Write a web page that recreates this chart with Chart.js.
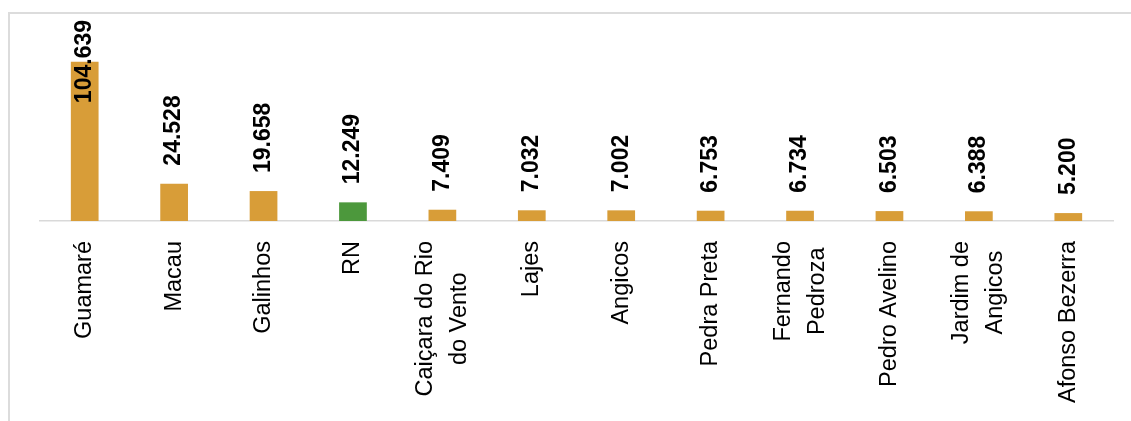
<!DOCTYPE html>
<html>
<head>
<meta charset="utf-8">
<script src="https://cdn.jsdelivr.net/npm/chart.js@4"></script>
<style>
  html, body { margin: 0; padding: 0; background: #fff; overflow: hidden; }
  #wrap { position: relative; width: 1131px; height: 421px; }
  #frame { position: absolute; left: 8px; top: 12px; width: 1200px; height: 500px;
           border-left: 2px solid #dcdcdc; border-top: 2px solid #dcdcdc; }
  canvas { position: absolute; left: 0; top: 0; }
</style>
</head>
<body>
<div id="wrap">
  <div id="frame"></div>
  <canvas id="chart" width="1131" height="421"></canvas>
</div>
<script>
// --- Données ---
const categories = [
  "Guamaré", "Macau", "Galinhos", "RN", ["Caiçara do Rio", "do Vento"], "Lajes",
  "Angicos", "Pedra Preta", ["Fernando", "Pedroza"], "Pedro Avelino",
  ["Jardim de", "Angicos"], "Afonso Bezerra",
];
const values = [104639, 24528, 19658, 12249, 7409, 7032, 7002, 6753, 6734, 6503, 6388, 5200];
const highlight = "RN";

const ORANGE = "#D89D38";
const GREEN = "#4C983C";
const FONT = "'Liberation Sans', Arial, sans-serif";

const colors = categories.map((c) => (c === highlight ? GREEN : ORANGE));

function fmt(v) {
  return String(v).replace(/\B(?=(\d{3})+(?!\d))/g, ".");
}

// --- Étiquettes (valeurs + catégories pivotées) ---
const labelsPlugin = {
  id: "labels",
  afterDatasetsDraw(chart) {
    const ctx = chart.ctx;
    const area = chart.chartArea;
    const meta = chart.getDatasetMeta(0);

    // valeurs au-dessus des barres
    ctx.save();
    ctx.font = "bold 23px " + FONT;
    ctx.fillStyle = "#000";
    ctx.textAlign = "left";
    ctx.textBaseline = "middle";
    meta.data.forEach((bar, i) => {
      const txt = fmt(values[i]);
      const w = ctx.measureText(txt).width;
      let y = bar.y - 18;
      if (y - w < area.top) y = area.top + w;
      ctx.save();
      ctx.translate(bar.x, y);
      ctx.rotate(-Math.PI / 2);
      ctx.fillText(txt, 0, 0);
      ctx.restore();
    });
    ctx.restore();

    // catégories sous l'axe
    const xs = chart.scales.x;
    ctx.save();
    ctx.font = "23.5px " + FONT;
    ctx.fillStyle = "#000";
    ctx.textAlign = "center";
    ctx.textBaseline = "middle";
    const lineH = 34;
    categories.forEach((lab, i) => {
      const lines = Array.isArray(lab) ? lab : [lab];
      const maxW = Math.max(...lines.map((l) => ctx.measureText(l).width));
      const cx = xs.getPixelForTick(i);
      const cy = area.bottom + 20 + maxW / 2;
      lines.forEach((l, k) => {
        const off = (k - (lines.length - 1) / 2) * lineH;
        ctx.save();
        ctx.translate(cx + off, cy);
        ctx.rotate(-Math.PI / 2);
        ctx.fillText(l, 0, 0);
        ctx.restore();
      });
    });
    ctx.restore();
  },
};

new Chart(document.getElementById("chart"), {
  type: "bar",
  data: {
    labels: categories,
    datasets: [{ data: values, backgroundColor: colors, borderWidth: 0, barPercentage: 0.31, categoryPercentage: 1 }],
  },
  options: {
    responsive: false,
    animation: false,
    devicePixelRatio: 1,
    layout: { padding: { left: 40, right: 18, top: 20, bottom: 0 } },
    plugins: { legend: { display: false }, tooltip: { enabled: false } },
    scales: {
      x: {
        ticks: { display: false },
        grid: { display: false },
        border: { display: true, color: "#d9d9d9", width: 1.5 },
        afterFit(scale) { scale.height = 200; },
      },
      y: { display: false, min: 0, max: 132000 },
    },
  },
  plugins: [labelsPlugin],
});
</script>
</body>
</html>
